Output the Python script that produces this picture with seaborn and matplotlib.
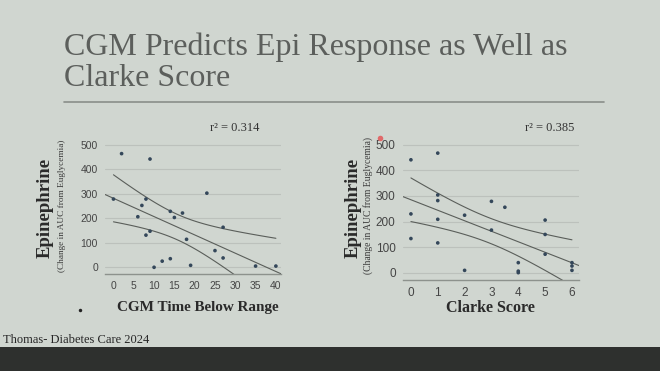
import numpy as np
import pandas as pd
import seaborn as sns
import matplotlib.pyplot as plt
from matplotlib.patches import Rectangle

# CGM time below range vs epinephrine response
cgm_tbr = [0, 2, 9, 8, 7, 6, 8, 9, 10, 12, 14, 14, 15, 17, 18, 19, 23, 25, 27, 27, 35, 40]
cgm_epi = [278, 463, 441, 278, 252, 206, 131, 147, 0, 25, 35, 228, 203, 221, 114, 8, 302, 68, 163, 38, 5, 5]

# Clarke score vs epinephrine response
clarke = [0, 0, 0, 1, 1, 1, 1, 1, 2, 2, 3, 3, 3.5, 4, 4, 4, 5, 5, 5, 6, 6, 6]
clarke_epi = [441, 230, 134, 467, 304, 282, 209, 117, 225, 10, 279, 167, 256, 40, 7, 1, 206, 150, 73, 40, 27, 10]

r2_labels = ['r\u00b2 = 0.314', 'r\u00b2 = 0.385']
yticks = [0, 100, 200, 300, 400, 500]

BG = '#d0d6d0'
sns.set_theme(style='white')
plt.rcParams['font.family'] = ['Liberation Serif', 'DejaVu Serif']


def fit_band(x, y, xs, t=2.086):
    x = np.asarray(x, float)
    y = np.asarray(y, float)
    b, a = np.polyfit(x, y, 1)
    n = len(x)
    resid = y - (a + b * x)
    s = np.sqrt((resid ** 2).sum() / (n - 2))
    se = s * np.sqrt(1 / n + (xs - x.mean()) ** 2 / ((x - x.mean()) ** 2).sum())
    fit = a + b * xs
    return fit, fit - t * se, fit + t * se


def panel(ax, x, y, xlim, xticks, tick_size):
    ax.set_facecolor(BG)
    xs_full = np.linspace(xlim[0], xlim[1], 100)
    fit, _, _ = fit_band(x, y, xs_full)
    xs = np.linspace(0, max(x), 100)
    _, lo, hi = fit_band(x, y, xs)
    ax.plot(xs_full, fit, color='#5a5e5a', lw=0.8)
    ax.plot(xs, lo, color='#5a5e5a', lw=0.8)
    ax.plot(xs, hi, color='#5a5e5a', lw=0.8)
    df = pd.DataFrame({'x': x, 'y': y})
    sns.scatterplot(data=df, x='x', y='y', ax=ax, s=7, color='#34475a',
                    edgecolor='none', zorder=3)
    ax.set_xlim(xlim)
    ax.set_ylim(-28, 510)
    ax.set_yticks(yticks)
    ax.set_xticks(xticks)
    ax.yaxis.grid(True, color='#bcc1bc', lw=0.8)
    ax.set_axisbelow(True)
    for sp in ['top', 'right', 'left']:
        ax.spines[sp].set_visible(False)
    ax.spines['bottom'].set_color('#8d928d')
    ax.spines['bottom'].set_linewidth(1.0)
    ax.tick_params(length=0, labelsize=tick_size, labelcolor='#454545', pad=5)
    for lab in ax.get_xticklabels() + ax.get_yticklabels():
        lab.set_family(['Liberation Sans', 'DejaVu Sans'])
    ax.set_xlabel('')
    ax.set_ylabel('')


fig = plt.figure(figsize=(6.6, 3.71), dpi=100, facecolor=BG)

ax1 = fig.add_axes([0.159, 0.261, 0.267, 0.356])
panel(ax1, cgm_tbr, cgm_epi, (-2.1, 41.3), range(0, 41, 5), 7.5)

ax2 = fig.add_axes([0.610, 0.245, 0.268, 0.372])
panel(ax2, clarke, clarke_epi, (-0.31, 6.28), range(0, 7), 8.5)

W, H = 660, 371


def ftxt(x, y, s, **kw):
    fig.text(x / W, 1 - y / H, s, **kw)


# title and rule
ftxt(64, 55, 'CGM Predicts Epi Response as Well as', fontsize=23, color='#5c5f5c',
     va='baseline')
ftxt(64, 86, 'Clarke Score', fontsize=23, color='#5c5f5c', va='baseline')
fig.add_artist(plt.Line2D([64 / W, 604 / W], [1 - 102 / H, 1 - 102 / H], color='#8a8f8a', lw=1.2))

# axis labels
ftxt(45, 208, 'Epinephrine', rotation=90, fontsize=13.5, fontweight='bold', color='#2a2a2a',
     ha='center', va='center')
ftxt(62, 206, '(Change in AUC from Euglycemia)', rotation=90, fontsize=6.7, color='#3a3a3a',
     ha='center', va='center')
ftxt(353, 208, 'Epinephrine', rotation=90, fontsize=13.5, fontweight='bold', color='#2a2a2a',
     ha='center', va='center')
ftxt(368, 205, '(Change in AUC from Euglycemia)', rotation=90, fontsize=6.9, color='#3a3a3a',
     ha='center', va='center')
ftxt(198, 308, 'CGM Time Below Range', fontsize=10.9, fontweight='bold', color='#2a2a2a',
     ha='center', va='center')
ftxt(490, 308, 'Clarke Score', fontsize=11.5, fontweight='bold', color='#2a2a2a',
     ha='center', va='center')
ftxt(235, 128, r2_labels[0], fontsize=9, color='#333333', ha='center', va='center')
ftxt(550, 128, r2_labels[1], fontsize=9, color='#333333', ha='center', va='center')

# footer
fig.add_artist(Rectangle((0, 0), 1, 1 - 347 / H, transform=fig.transFigure,
                         facecolor='#2e302e', edgecolor='none'))
ftxt(3, 343, 'Thomas- Diabetes Care 2024', fontsize=9, color='#262626', va='baseline')

# pointer marks
fig.add_artist(plt.Line2D([380 / W], [1 - 138 / H], marker='o', ms=4, color='#e06a6a', mec='none'))
fig.add_artist(plt.Line2D([80 / W], [1 - 310 / H], marker='o', ms=2.5, color='#222222', mec='none'))

fig.savefig('out.png', dpi=100, facecolor=BG)
